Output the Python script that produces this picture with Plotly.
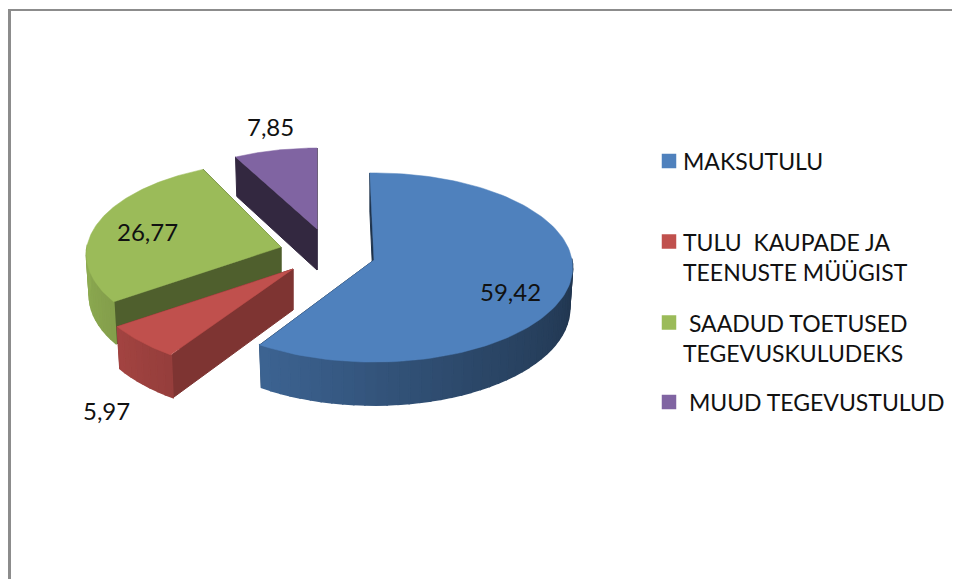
import numpy as np
import plotly.graph_objects as go

# ---- data ----
categories = ["MAKSUTULU", "TULU  KAUPADE JA<br>TEENUSTE MÜÜGIST",
              " SAADUD TOETUSED<br>TEGEVUSKULUDEKS", " MUUD TEGEVUSTULUD"]
values = [59.42, 5.97, 26.77, 7.85]
value_labels = ["59,42", "5,97", "26,77", "7,85"]
top_colors = ["#4f81bd", "#c0504d", "#9bbb59", "#8064a2"]

# ---- 3D projection layout (pixels of the 960x579 canvas) ----
RX, RY, PERSP = 198.0, 94.0, 0.0794
DEPTH = 41.0
BOTTOM_SCALE = 0.985
apex_x = [374, 293, 281, 317]
apex_y = [260, 269, 247, 229]
slice_scale = [1.0, 1.03, 0.98, 0.93]
slice_rot = [-1.3, 0.0, 0.0, 0.0]
# small perspective correction of each slice's far edge, in degrees
end_skew = [0.0, 0.0, 2.8, 0.0]
wall_factor = [0.40, 0.66, 0.51, 0.40]
label_x = [510, 106, 147, 270]
label_y = [291, 410, 231, 126]
draw_order = [3, 2, 1, 0]
legend_marker_x = [669, 669, 669, 669]
legend_marker_y = [161, 241.5, 322.5, 402]
legend_text_x = [681, 681, 681, 681]
legend_text_y = [161, 257, 337.5, 402]

FONT = "Lato"


def hex2rgb(h):
    return np.array([int(h[i:i + 2], 16) for i in (1, 3, 5)], float)


def shade(h, f):
    c = hex2rgb(h) * f
    return "rgb(%d,%d,%d)" % tuple(c)


def rim(i, deg, bottom=False):
    t = np.radians(deg)
    d = 1 + PERSP * np.cos(t)
    s = slice_scale[i] * (BOTTOM_SCALE if bottom else 1.0)
    x = apex_x[i] + s * RX * np.sin(t) / d
    y = apex_y[i] - s * RY * np.cos(t) / d
    if bottom:
        y = y + DEPTH / (1 + 0.08 * np.cos(t))
    return x, y


def poly(xs, ys, color, lw=1.0, line_color=None):
    return go.Scatter(x=list(xs) + [xs[0]], y=list(ys) + [ys[0]], mode="lines",
                      fill="toself", fillcolor=color,
                      line=dict(color=line_color or color, width=lw),
                      hoverinfo="skip", showlegend=False)


fig = go.Figure()

total = sum(values)
edges = np.concatenate([[0], np.cumsum(values)]) / total * 360.0

for i in draw_order:
    a0 = edges[i] + slice_rot[i]
    a1 = edges[i + 1] + slice_rot[i] + end_skew[i]
    wall_col = shade(top_colors[i], wall_factor[i])
    ax, ay = apex_x[i], apex_y[i]
    # radial walls, farther wall first
    walls = sorted([a0, a1], key=lambda a: -np.cos(np.radians(a)))
    for a in walls:
        tx, ty = rim(i, a)
        bx, by = rim(i, a, True)
        fig.add_trace(poly([ax, tx, bx, ax], [ay, ty, by, ay + DEPTH], wall_col, lw=1))
    # outer curved side, only the part that faces the viewer
    grid = np.linspace(a0, a1, max(8, int((a1 - a0) / 3)) + 1)
    for g0, g1 in zip(grid[:-1], grid[1:]):
        gm = 0.5 * (g0 + g1) % 360
        if np.cos(np.radians(gm)) > 0.0:
            continue
        f = np.interp(gm, [90, 150, 214, 235, 270], [0.40, 0.55, 0.78, 0.85, 0.92])
        x0, y0 = rim(i, g0)
        x1, y1 = rim(i, g1)
        x2, y2 = rim(i, g1, True)
        x3, y3 = rim(i, g0, True)
        c = shade(top_colors[i], f)
        fig.add_trace(go.Scatter(x=[x0, x1, x2, x3, x0], y=[y0, y1, y2, y3, y0],
                                 mode="lines", fill="toself", fillcolor=c,
                                 line=dict(color=c, width=1.5),
                                 hoverinfo="skip", showlegend=False))
    # top face
    ang = np.linspace(a0, a1, 121)
    pts = [rim(i, a) for a in ang]
    xs = [ax] + [p[0] for p in pts]
    ys = [ay] + [p[1] for p in pts]
    fig.add_trace(poly(xs, ys, top_colors[i], lw=0.5))

# legend swatches and texts
fig.add_trace(go.Scatter(x=legend_marker_x, y=legend_marker_y, mode="markers",
                         marker=dict(symbol="square", size=14.5, color=top_colors,
                                     line=dict(width=0)),
                         hoverinfo="skip", showlegend=False))
for name, lx, ly in zip(categories, legend_text_x, legend_text_y):
    fig.add_annotation(x=lx, y=ly, text=name, showarrow=False, align="left",
                       font=dict(family=FONT, size=23, color="#111111"),
                       xanchor="left", yanchor="middle")

for txt, lx, ly in zip(value_labels, label_x, label_y):
    fig.add_annotation(x=lx, y=ly, text=txt, showarrow=False,
                       font=dict(family=FONT, size=24, color="#111111"),
                       xanchor="center", yanchor="middle")

# the page body has an 8 px margin, so the axes start at pixel 8
fig.update_layout(
    width=952, height=571,
    margin=dict(l=0, r=0, t=0, b=0),
    paper_bgcolor="white", plot_bgcolor="white",
    xaxis=dict(range=[8, 960], visible=False, fixedrange=True),
    yaxis=dict(range=[579, 8], visible=False, fixedrange=True),
    showlegend=False,
    shapes=[
        dict(type="line", xref="x", yref="y", x0=9.5, x1=9.5, y0=9, y1=579,
             line=dict(color="#8c8c8c", width=3)),
        dict(type="line", xref="x", yref="y", x0=8, x1=960, y0=10, y1=10,
             line=dict(color="#8c8c8c", width=2)),
    ],
)

fig.write_html("out.html")
